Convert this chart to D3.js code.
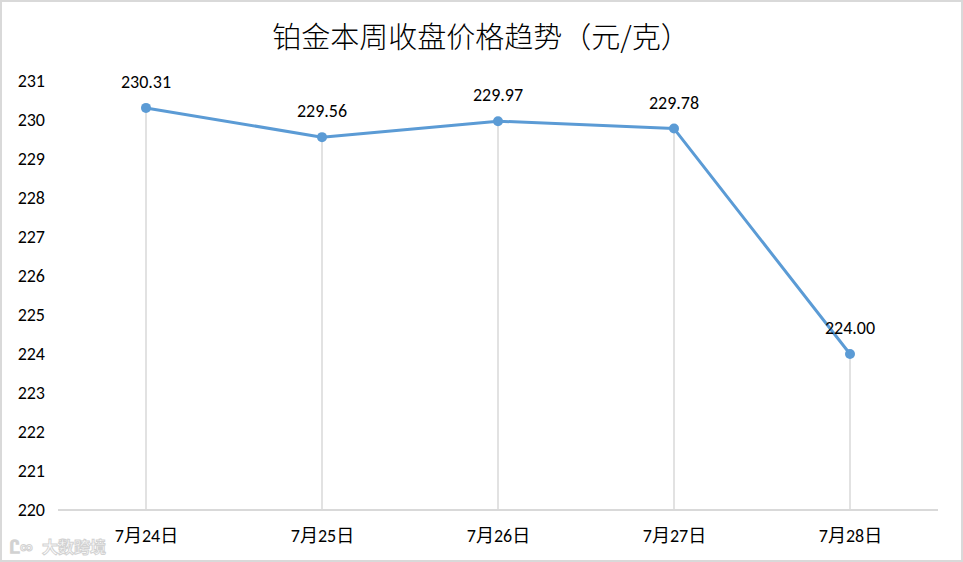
<!DOCTYPE html>
<html><head><meta charset="utf-8">
<script src="https://cdn.jsdelivr.net/npm/d3@7"></script>
<style>body{margin:0;background:#fff}svg{display:block}</style>
</head><body>
<script>
const categories = ["7月24日","7月25日","7月26日","7月27日","7月28日"];
const prices = [230.31, 229.56, 229.97, 229.78, 224.00];
const yTicks = [220,221,222,223,224,225,226,227,228,229,230,231];
const title = "铂金本周收盘价格趋势（元/克）";

const W = 963, H = 562;
const svg = d3.select("body").append("svg").attr("width", W).attr("height", H);
svg.append("rect").attr("x",1).attr("y",1).attr("width",W-2).attr("height",H-2)
  .attr("fill","#fff").attr("stroke","#d9d9d9").attr("stroke-width",2);

const x = d3.scalePoint().domain(categories).range([58, 938]).padding(0.5);
const y = d3.scaleLinear().domain([220, 231]).range([510, 81]);

const font = "Carlito, Calibri, 'Noto Sans CJK SC', sans-serif";

svg.append("text").attr("x", 481).attr("y", 48).attr("text-anchor","middle")
  .attr("font-family","'Noto Sans CJK SC', sans-serif").attr("font-size",29).attr("font-weight",300)
  .attr("fill","#000").text(title);

// y axis labels
const yAxis = d3.axisLeft(y).tickValues(yTicks).tickSize(0).tickPadding(0).tickFormat(d3.format("d"));
const gy = svg.append("g").attr("transform","translate(45,0)").call(yAxis);
gy.select(".domain").remove();
gy.selectAll("text").attr("font-family",font).attr("font-size",18).attr("fill","#000");

// drop lines
svg.append("g").selectAll("line").data(prices).join("line")
  .attr("x1",(d,i)=>x(categories[i])).attr("x2",(d,i)=>x(categories[i]))
  .attr("y1",d=>y(d)).attr("y2",y(220))
  .attr("stroke","#d9d9d9").attr("stroke-width",1.5);

// x axis
const xAxis = d3.axisBottom(x).tickSize(0).tickPadding(19);
const gx = svg.append("g").attr("transform",`translate(0,${y(220)})`).call(xAxis);
gx.select(".domain").attr("stroke","#d9d9d9").attr("stroke-width",2)
  .attr("d","M58,0H938");
gx.selectAll("text").attr("font-family",font).attr("font-size",18).attr("fill","#000");

// line
const line = d3.line().x((d,i)=>x(categories[i])).y(d=>y(d));
svg.append("path").datum(prices).attr("d",line).attr("fill","none")
  .attr("stroke","#5b9bd5").attr("stroke-width",3).attr("stroke-linejoin","round");
svg.append("g").selectAll("circle").data(prices).join("circle")
  .attr("cx",(d,i)=>x(categories[i])).attr("cy",d=>y(d)).attr("r",5).attr("fill","#5b9bd5");

// labels
svg.append("g").selectAll("text").data(prices).join("text")
  .attr("x",(d,i)=>x(categories[i])).attr("y",d=>y(d)-20)
  .attr("text-anchor","middle").attr("font-family",font).attr("font-size",18).attr("fill","#000")
  .text(d=>d3.format(".2f")(d));

// watermark
svg.append("text").attr("x",42).attr("y",553).attr("font-family","'Noto Sans CJK SC', sans-serif")
  .attr("font-size",16).attr("font-weight","bold").attr("fill","#fff").attr("stroke","#c8c8c8").attr("stroke-width",1)
  .attr("opacity",0.8).text("大数跨境");
svg.append("text").attr("x",10).attr("y",553).attr("font-family","'Liberation Sans', sans-serif")
  .attr("font-size",18).attr("font-weight","bold").attr("fill","#fff").attr("stroke","#c8c8c8").attr("stroke-width",1)
  .attr("opacity",0.8).text("Ꮭ∞");
</script>
</body></html>
